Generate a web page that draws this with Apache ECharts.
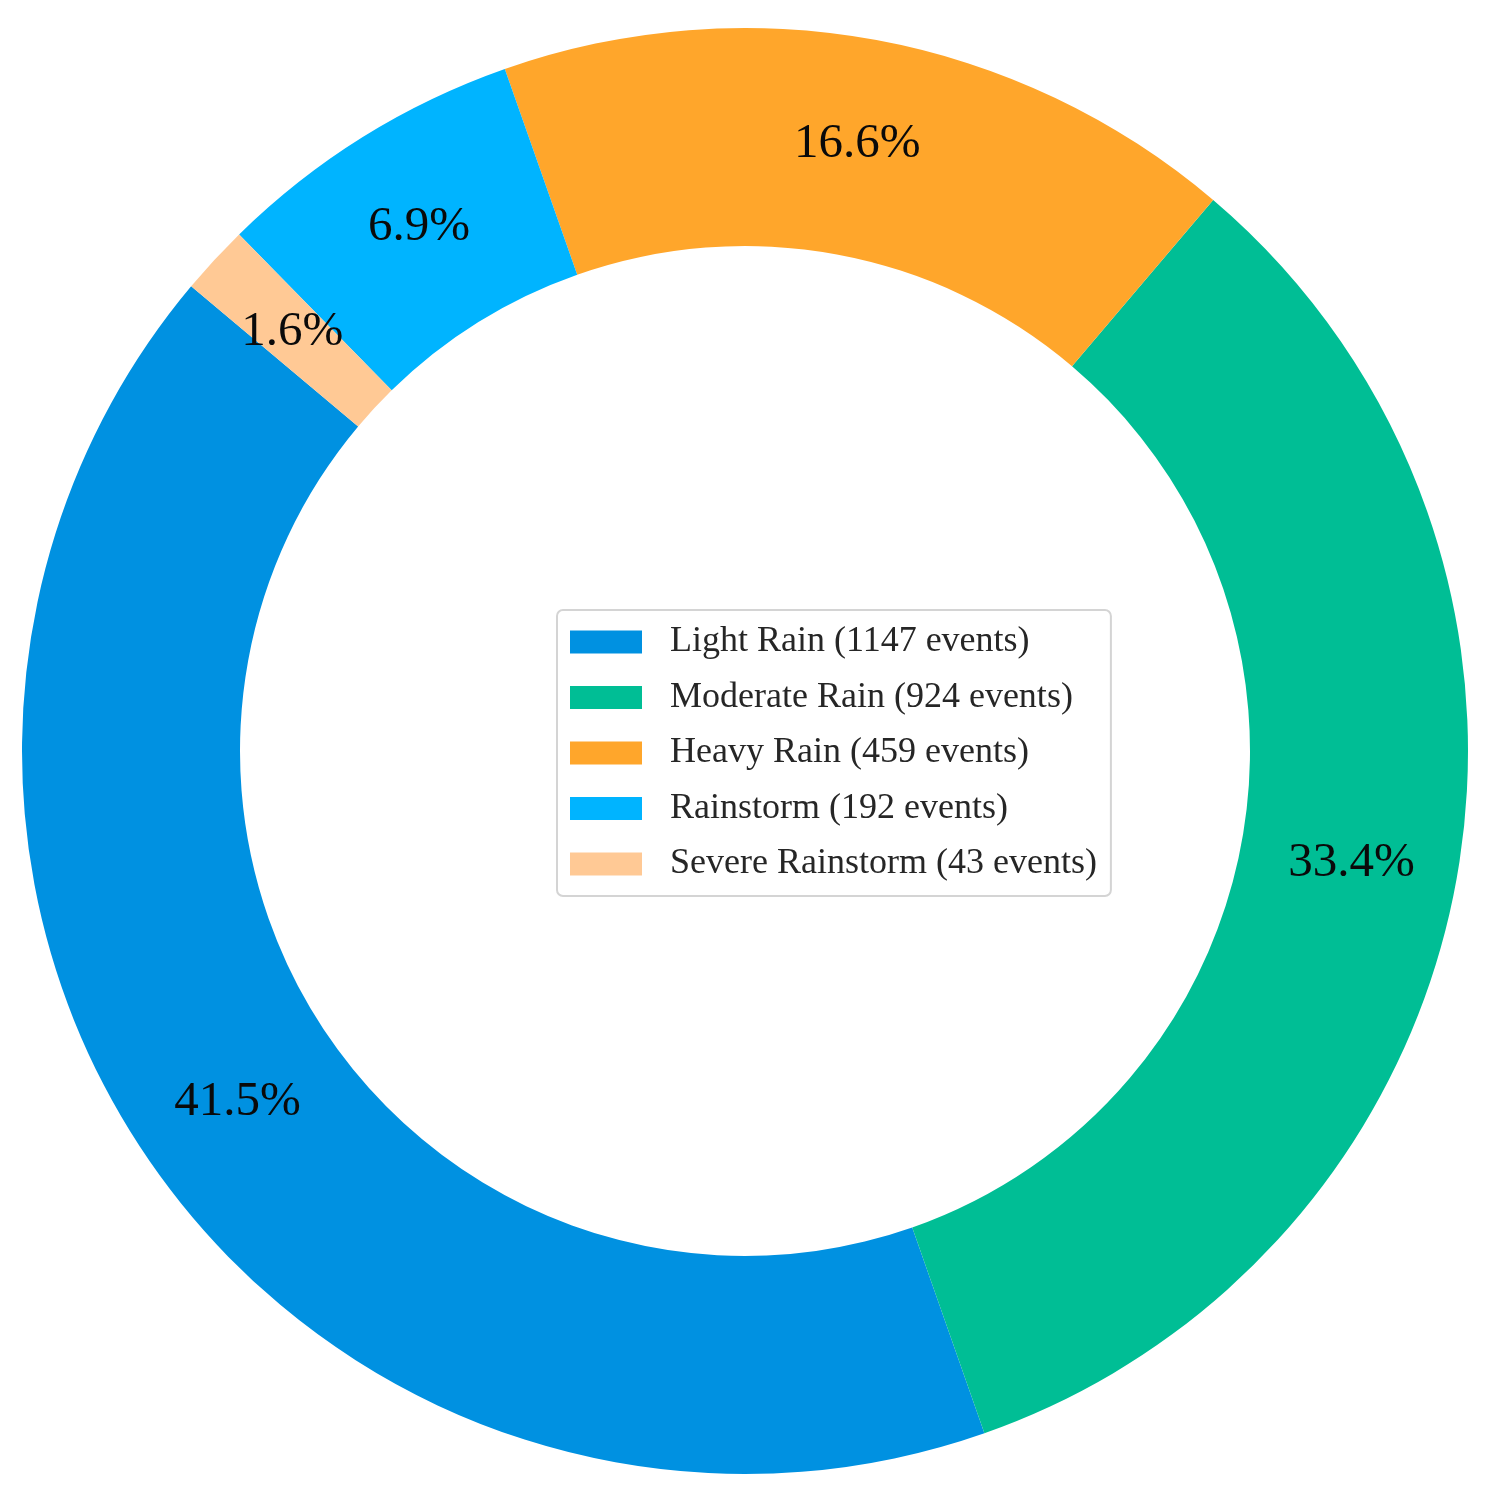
<!DOCTYPE html>
<html>
<head>
<meta charset="utf-8">
<script src="https://cdn.jsdelivr.net/npm/echarts@6/dist/echarts.min.js"></script>
<style>
html,body{margin:0;padding:0;background:#fff;}
#chart{width:1488px;height:1495px;}
</style>
</head>
<body>
<div id="chart"></div>
<script>
const categories = ["Light Rain", "Moderate Rain", "Heavy Rain", "Rainstorm", "Severe Rainstorm"];
const eventCounts = [1147, 924, 459, 192, 43];
const colors = ["#0091E1", "#00BE95", "#FFA62B", "#00B4FF", "#FFC995"];

const total = eventCounts.reduce((a, b) => a + b, 0);
const legendNames = categories.map((c, i) => c + " (" + eventCounts[i] + " events)");
const pieData = categories.map((c, i) => ({
  name: legendNames[i],
  value: eventCounts[i],
  itemStyle: { color: colors[i] }
}));

const chart = echarts.init(document.getElementById('chart'));
chart.setOption({
  backgroundColor: '#ffffff',
  animation: false,
  legend: {
    orient: 'vertical',
    left: 557,
    top: 610,
    padding: [14, 14, 14, 13],
    itemWidth: 72,
    itemHeight: 23,
    itemGap: 19.5,
    backgroundColor: '#ffffff',
    borderColor: '#d4d4d4',
    borderWidth: 2,
    borderRadius: 6,
    icon: 'rect',
    data: legendNames,
    textStyle: {
      fontFamily: 'Liberation Serif',
      fontSize: 36,
      color: '#262626',
      lineHeight: 31,
      padding: [0, 0, 0, 23]
    }
  },
  series: [{
    type: 'pie',
    center: [745, 751],
    radius: [505, 723],
    startAngle: 140,
    clockwise: false,
    avoidLabelOverlap: false,
    label: {
      show: true,
      position: 'inside',
      formatter: function (p) { return (p.value / total * 100).toFixed(1) + '%'; },
      fontFamily: 'Liberation Serif',
      fontSize: 49,
      color: '#0a0a0a'
    },
    labelLine: { show: false },
    itemStyle: { borderWidth: 0 },
    emphasis: { disabled: true },
    data: pieData
  }]
});
</script>
</body>
</html>
